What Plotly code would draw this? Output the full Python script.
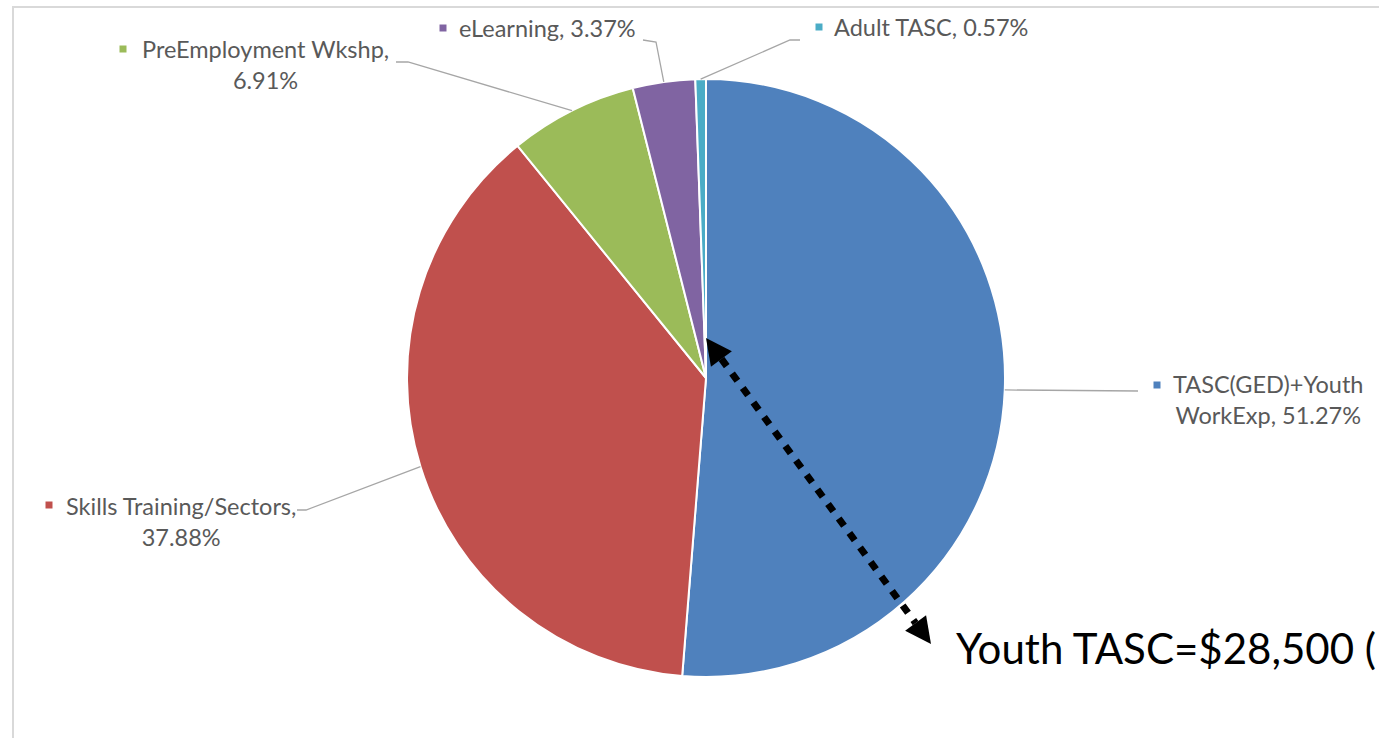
import math
import plotly.graph_objects as go

# ---- data ----
categories = ["TASC(GED)+Youth WorkExp", "Skills Training/Sectors",
              "PreEmployment Wkshp", "eLearning", "Adult TASC"]
values = [51.27, 37.88, 6.91, 3.37, 0.57]
colors = ["#4F81BD", "#C0504D", "#9BBB59", "#8064A2", "#4BACC6"]
# how each data label is broken into lines (text before the value, line break flag)
label_first = ["TASC(GED)+Youth", "Skills Training/Sectors,", "PreEmployment Wkshp,",
               "eLearning,", "Adult TASC,"]
label_second = ["WorkExp, ", "", "", None, None]
callout_text = "Youth TASC=$28,500 ("

# ---- layout constants (pixels) ----
W, H = 1379, 738
CX, CY, R = 706, 378, 299


def px(x):
    return x / W


def py(y):
    return 1 - y / H


fig = go.Figure()
fig.add_trace(go.Pie(
    labels=categories, values=values, sort=False, direction="clockwise",
    rotation=0, textinfo="none", hoverinfo="label+percent", showlegend=False,
    marker=dict(colors=colors, line=dict(color="white", width=2)),
    domain=dict(x=[px(CX - R), px(CX + R)], y=[py(CY + R), py(CY - R)]),
))

# label positions (text block centre), marker positions, leader line label-side points
label_pos = [(1268, 400), (181, 521), (265, 65), (547, 28), (931, 27)]
marker_pos = [(1157, 385), (49, 505), (123, 49), (443, 28), (819, 27)]
leader_pts = [
    [(1138, 391)],
    [(297, 510), (306, 510)],
    [(396, 62), (408, 62)],
    [(643, 40), (656, 42)],
    [(800, 40), (790, 40)],
]

LBL_FONT = dict(family="Lato, sans-serif", size=23.5, color="#595959")
shapes = []
annotations = []

# chart-area border
shapes.append(dict(type="rect", xref="paper", yref="paper",
                   x0=px(13), x1=px(1400), y0=py(760), y1=py(7),
                   line=dict(color="#D9D9D9", width=2), fillcolor="rgba(0,0,0,0)",
                   layer="below"))

cum = 0.0
total = sum(values)
for i, v in enumerate(values):
    mid = (cum + v / 2) / total * 2 * math.pi
    cum += v
    ex, ey = CX + R * math.sin(mid), CY - R * math.cos(mid)
    pts = leader_pts[i] + [(ex, ey)]
    path = "M " + " L ".join(f"{px(x)},{py(y)}" for x, y in pts)
    shapes.append(dict(type="path", xref="paper", yref="paper", path=path,
                       line=dict(color="#A6A6A6", width=1.3)))
    if label_second[i] is None:
        txt = f"{label_first[i]} {v:.2f}%"
    else:
        txt = f"{label_first[i]}<br>{label_second[i]}{v:.2f}%"
    lx, ly = label_pos[i]
    annotations.append(dict(xref="paper", yref="paper", x=px(lx), y=py(ly),
                            xanchor="center", yanchor="middle", showarrow=False,
                            text=txt, align="center", font=LBL_FONT))
    mx, my = marker_pos[i]
    shapes.append(dict(type="rect", xref="paper", yref="paper",
                       x0=px(mx - 3.5), x1=px(mx + 3.5), y0=py(my + 3.5), y1=py(my - 3.5),
                       line=dict(width=0), fillcolor=colors[i]))

# double-headed dotted arrow
t1 = (706, 338)
t2 = (931, 644)
dx, dy = t2[0] - t1[0], t2[1] - t1[1]
L = math.hypot(dx, dy)
ux, uy = dx / L, dy / L
nx, ny = -uy, ux
HL, HW = 26, 13


def head(tip, s):
    bx, by = tip[0] + s * ux * HL, tip[1] + s * uy * HL
    p = [tip, (bx + nx * HW, by + ny * HW), (bx - nx * HW, by - ny * HW)]
    return "M " + " L ".join(f"{px(x)},{py(y)}" for x, y in p) + " Z"


shapes.append(dict(type="line", xref="paper", yref="paper",
                   x0=px(t1[0] + ux * HL), y0=py(t1[1] + uy * HL),
                   x1=px(t2[0] - ux * HL), y1=py(t2[1] - uy * HL),
                   line=dict(color="black", width=7, dash="9px,9px")))
shapes.append(dict(type="path", xref="paper", yref="paper", path=head(t1, 1),
                   fillcolor="black", line=dict(width=0)))
shapes.append(dict(type="path", xref="paper", yref="paper", path=head(t2, -1),
                   fillcolor="black", line=dict(width=0)))

annotations.append(dict(xref="paper", yref="paper", x=px(954), y=py(648),
                        xanchor="left", yanchor="middle", showarrow=False,
                        text=callout_text,
                        font=dict(family="Lato, sans-serif", size=42, color="black")))

fig.update_layout(width=W, height=H, margin=dict(l=0, r=0, t=0, b=0),
                  paper_bgcolor="white", plot_bgcolor="white",
                  shapes=shapes, annotations=annotations)
fig.write_html("out.html", config={"displayModeBar": False})
